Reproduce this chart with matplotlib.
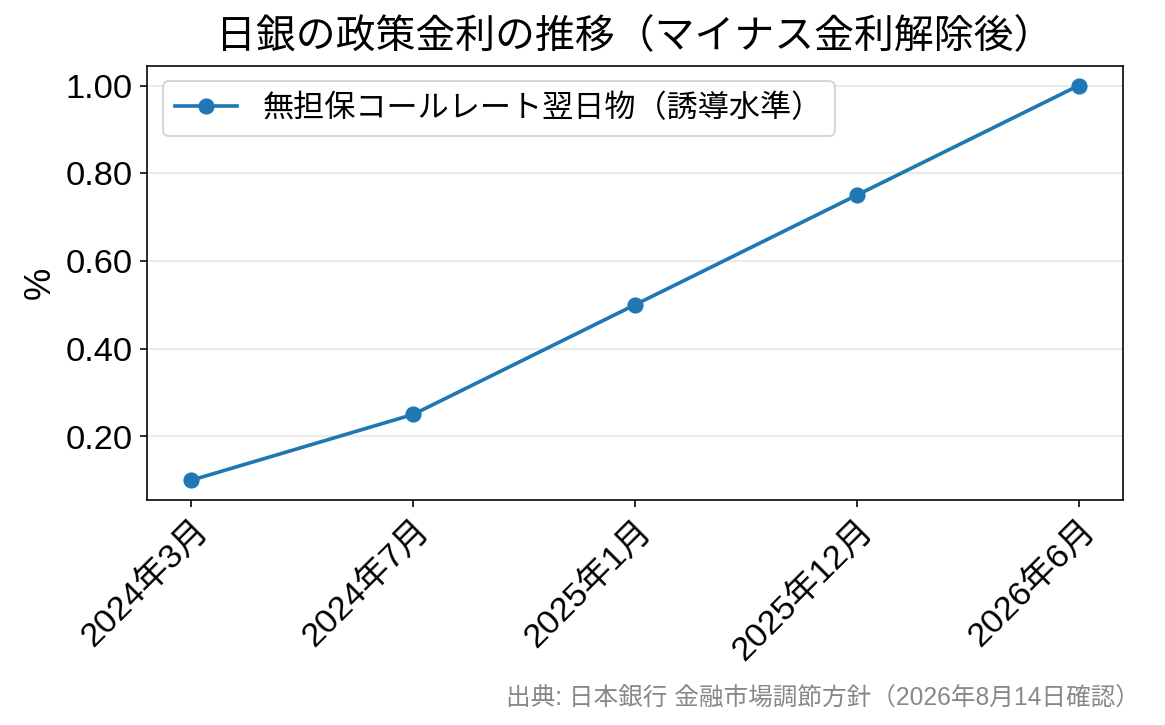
import matplotlib
matplotlib.use("Agg")
import matplotlib.pyplot as plt
from matplotlib.ticker import FormatStrFormatter

plt.rcParams['font.family'] = ['Liberation Sans', 'Noto Sans CJK JP', 'DejaVu Sans']

dates = ["2024年3月", "2024年7月", "2025年1月", "2025年12月", "2026年6月"]
rates = [0.10, 0.25, 0.50, 0.75, 1.00]
series_label = "無担保コールレート翌日物（誘導水準）"
title = "日銀の政策金利の推移（マイナス金利解除後）"
source = "出典: 日本銀行 金融市場調節方針（2026年8月14日確認）"

fig = plt.figure(figsize=(8.0, 4.98), dpi=145.625)
ax = fig.add_axes([147/1165, 1-500/725, (1123-147)/1165, (500-66)/725])

x = list(range(len(dates)))
ax.plot(x, rates, marker='o', color='#1f77b4', linewidth=1.8, markersize=7, label=series_label)
ax.set_xticks(x)
ax.set_xticklabels(dates, rotation=45, ha='right', rotation_mode='anchor', fontsize=17)
ax.tick_params(axis='y', labelsize=17)
ax.yaxis.set_major_formatter(FormatStrFormatter('%.2f'))
ax.set_ylabel('%', fontsize=18)
ax.set_title(title, fontsize=19.7, pad=9)
ax.grid(axis='y', color='#e6e6e6', linewidth=0.8)
ax.set_axisbelow(True)
ax.legend(loc='upper left', fontsize=15.4)
fig.text(1140/1165, 1-697/725, source, ha='right', va='center', fontsize=12.2, color='#888888')

fig.savefig('out.png', dpi=145.625)
